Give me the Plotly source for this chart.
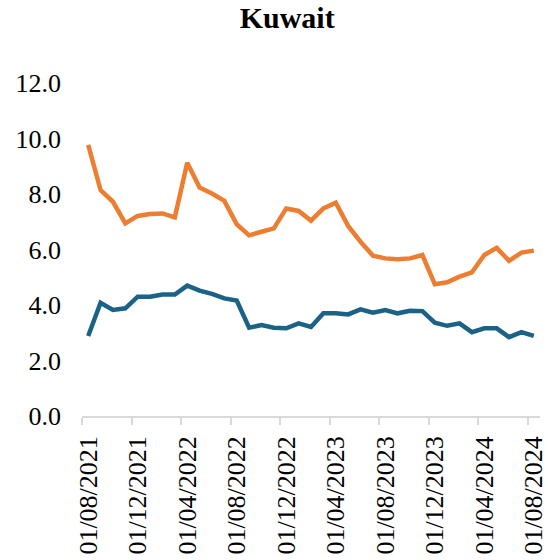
import plotly.graph_objects as go

months = ["01/%02d/%d" % (m, y) for y, m in
          [(2021, 8), (2021, 9), (2021, 10), (2021, 11), (2021, 12),
           (2022, 1), (2022, 2), (2022, 3), (2022, 4), (2022, 5), (2022, 6), (2022, 7),
           (2022, 8), (2022, 9), (2022, 10), (2022, 11), (2022, 12),
           (2023, 1), (2023, 2), (2023, 3), (2023, 4), (2023, 5), (2023, 6), (2023, 7),
           (2023, 8), (2023, 9), (2023, 10), (2023, 11), (2023, 12),
           (2024, 1), (2024, 2), (2024, 3), (2024, 4), (2024, 5), (2024, 6), (2024, 7),
           (2024, 8)]]

orange_values = [9.77, 8.14, 7.72, 6.94, 7.21, 7.28, 7.30, 7.16, 9.13, 8.23, 8.02, 7.75,
                 6.91, 6.51, 6.64, 6.76, 7.48, 7.39, 7.04, 7.48, 7.69, 6.85, 6.28, 5.78,
                 5.68, 5.65, 5.68, 5.80, 4.75, 4.82, 5.02, 5.18, 5.80, 6.06, 5.59, 5.89,
                 5.96]

blue_values = [2.88, 4.08, 3.82, 3.88, 4.30, 4.30, 4.38, 4.38, 4.70, 4.52, 4.40, 4.24,
               4.16, 3.18, 3.28, 3.18, 3.16, 3.34, 3.21, 3.70, 3.70, 3.66, 3.84, 3.72,
               3.82, 3.70, 3.79, 3.78, 3.36, 3.25, 3.34, 3.02, 3.16, 3.16, 2.84, 3.02,
               2.89]

y_ticks = [0, 2, 4, 6, 8, 10, 12]

idx = list(range(len(months)))
label_idx = idx[::4]
label_text = [months[i] for i in label_idx]

fig = go.Figure()
fig.add_trace(go.Scatter(x=idx, y=orange_values, mode="lines",
                         line=dict(color="#ED7D31", width=4.5), showlegend=False))
fig.add_trace(go.Scatter(x=idx, y=blue_values, mode="lines",
                         line=dict(color="#1B6386", width=4.5), showlegend=False))

font_family = "Liberation Serif"

fig.update_layout(
    width=548, height=560,
    margin=dict(l=82, r=8, t=83, b=144, autoexpand=False),
    paper_bgcolor="white", plot_bgcolor="white",
    font=dict(family=font_family, color="black", size=26),
    title=dict(text="Kuwait", x=0.524, xanchor="center",
               y=0.988, yanchor="top", yref="container", automargin=False,
               font=dict(family=font_family, size=30, color="black", weight="bold")),
)

fig.update_xaxes(
    range=[-0.5, len(months) - 0.5], automargin=False,
    tickmode="array", tickvals=label_idx, ticktext=label_text,
    tickangle=-90, ticks="", showgrid=False, zeroline=False,
    showline=True, linecolor="#d9d9d9", linewidth=1.5,
    ticklabelstandoff=8, ticklabeloverflow="allow",
    tickfont=dict(family=font_family, size=26, color="black"),
    minor=dict(tickmode="linear", tick0=-0.5, dtick=4, ticks="outside",
               ticklen=7, tickcolor="#d9d9d9", tickwidth=1.5, showgrid=False),
)

fig.update_yaxes(
    range=[0, 12], automargin=False, tickmode="array", tickvals=y_ticks,
    ticktext=["%.1f" % v for v in y_ticks],
    showgrid=False, zeroline=False, showline=False, ticks="",
    ticklabelstandoff=20,
    tickfont=dict(family=font_family, size=26, color="black"),
)

fig.write_html("out.html", config={"displayModeBar": False},
               post_script="document.body.style.margin='0px';document.body.style.overflow='hidden';")
